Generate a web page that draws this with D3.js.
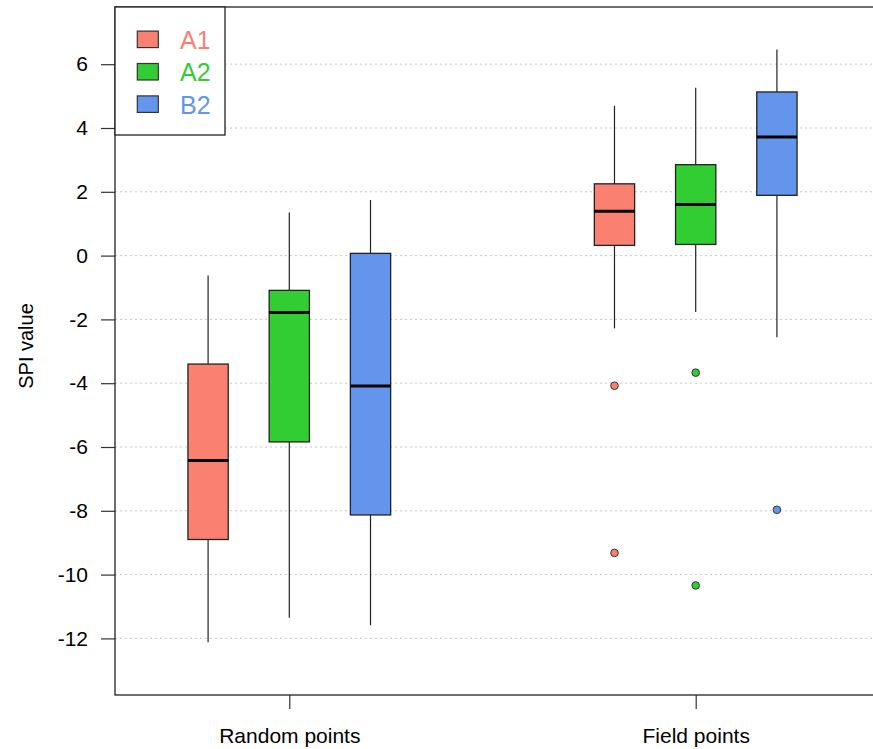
<!DOCTYPE html>
<html>
<head>
<meta charset="utf-8">
<script src="https://cdn.jsdelivr.net/npm/d3@7"></script>
<style>
    body { margin: 0; background: #fff; }
    text { font-family: "Liberation Sans", Arial, sans-serif; fill: #000; }
    .grid line { stroke: #c8c8c8; stroke-dasharray: 2,3; stroke-width: 1; }
</style>
</head>
<body>
<div id="chart"></div>
<script>
// data
var groups = ["Random points", "Field points"];
var series = ["A1", "A2", "B2"];
var colors = ["#FA8072", "#32CD32", "#6495ED"];

// per group, per series
var whiskerLow  = [[-12.12, -11.35, -11.59], [-2.28, -1.77, -2.56]];
var q1          = [[-8.90, -5.84, -8.13], [0.32, 0.35, 1.89]];
var median      = [[-6.42, -1.78, -4.09], [1.39, 1.60, 3.72]];
var q3          = [[-3.40, -1.09, 0.07], [2.25, 2.85, 5.13]];
var whiskerHigh = [[-0.62, 1.35, 1.74], [4.70, 5.26, 6.46]];
var outliers    = [[[], [], []], [[-4.08, -9.32], [-3.67, -10.34], [-7.97]]];

var yTicks = [-12, -10, -8, -6, -4, -2, 0, 2, 4, 6];

// set the dimensions of the graph
var W = 873, H = 749;
var plot = {left: 115, top: 7, right: 880, bottom: 695};

var svg = d3.select("#chart").append("svg")
    .attr("width", W)
    .attr("height", H);

var y = d3.scaleLinear()
    .domain([-13, 7])
    .range([670.3, 32.3]);

// group centres, then series offsets inside each group
var x = d3.scalePoint()
    .domain(groups)
    .range([289.3, 695.7]);

var xs = d3.scaleBand()
    .domain(series)
    .range([-101.35, 101.35])
    .paddingInner(0.504);

// flatten for drawing
var boxes = [];
groups.forEach(function (g, gi) {
    series.forEach(function (s, si) {
        boxes.push({
            group: g, series: s, color: colors[si],
            lo: whiskerLow[gi][si], q1: q1[gi][si], med: median[gi][si],
            q3: q3[gi][si], hi: whiskerHigh[gi][si], out: outliers[gi][si]
        });
    });
});

function cx(d) { return x(d.group) + xs(d.series) + xs.bandwidth() / 2; }

// grid lines
svg.append("g")
    .attr("class", "grid")
    .selectAll("line")
    .data(yTicks)
    .enter()
    .append("line")
    .attr("x1", plot.left)
    .attr("x2", W)
    .attr("y1", function (d) { return y(d); })
    .attr("y2", function (d) { return y(d); });

// whiskers
svg.append("g").selectAll("line")
    .data(boxes)
    .enter()
    .append("line")
    .attr("x1", cx).attr("x2", cx)
    .attr("y1", function (d) { return y(d.hi); })
    .attr("y2", function (d) { return y(d.lo); })
    .attr("stroke", "#222")
    .attr("stroke-width", 1.2);

// boxes
svg.append("g").selectAll("rect")
    .data(boxes)
    .enter()
    .append("rect")
    .attr("x", function (d) { return cx(d) - xs.bandwidth() / 2; })
    .attr("width", xs.bandwidth())
    .attr("y", function (d) { return y(d.q3); })
    .attr("height", function (d) { return y(d.q1) - y(d.q3); })
    .attr("fill", function (d) { return d.color; })
    .attr("stroke", "#222")
    .attr("stroke-width", 1.3);

// medians
svg.append("g").selectAll("line")
    .data(boxes)
    .enter()
    .append("line")
    .attr("x1", function (d) { return cx(d) - xs.bandwidth() / 2; })
    .attr("x2", function (d) { return cx(d) + xs.bandwidth() / 2; })
    .attr("y1", function (d) { return y(d.med); })
    .attr("y2", function (d) { return y(d.med); })
    .attr("stroke", "#000")
    .attr("stroke-width", 3);

// outliers
var pts = [];
boxes.forEach(function (b) {
    b.out.forEach(function (v) { pts.push({b: b, v: v}); });
});
svg.append("g").selectAll("circle")
    .data(pts)
    .enter()
    .append("circle")
    .attr("cx", function (d) { return cx(d.b); })
    .attr("cy", function (d) { return y(d.v); })
    .attr("r", 3.8)
    .attr("fill", function (d) { return d.b.color; })
    .attr("stroke", "#333")
    .attr("stroke-width", 1);

// Y axis (plain hyphen for negatives, like the original)
var yAxis = svg.append("g")
    .attr("transform", "translate(" + plot.left + ",0)")
    .call(d3.axisLeft(y).tickValues(yTicks)
        .tickFormat(function (d) { return String(d); })
        .tickSize(14).tickPadding(13));
yAxis.select(".domain").remove();
yAxis.selectAll(".tick line").attr("stroke", "#333").attr("stroke-width", 1.2);
yAxis.selectAll("text")
    .style("font-family", "Liberation Sans, Arial, sans-serif")
    .style("font-size", "21px")
    .attr("fill", "#000");

// X axis
var xAxis = svg.append("g")
    .attr("transform", "translate(0," + plot.bottom + ")")
    .call(d3.axisBottom(x).tickSize(14).tickPadding(19));
xAxis.select(".domain").remove();
xAxis.selectAll(".tick line").attr("stroke", "#333").attr("stroke-width", 1.2);
xAxis.selectAll("text")
    .style("font-family", "Liberation Sans, Arial, sans-serif")
    .style("font-size", "21px")
    .attr("fill", "#000");

// plot frame
svg.append("rect")
    .attr("x", plot.left)
    .attr("y", plot.top)
    .attr("width", plot.right - plot.left)
    .attr("height", plot.bottom - plot.top)
    .attr("fill", "none")
    .attr("stroke", "#222")
    .attr("stroke-width", 1.3);

// y label
svg.append("text")
    .attr("transform", "translate(33,346) rotate(-90)")
    .style("text-anchor", "middle")
    .style("font-size", "20px")
    .text("SPI value");

// legend
var legend = svg.append("g");
legend.append("rect")
    .attr("x", plot.left)
    .attr("y", plot.top)
    .attr("width", 110)
    .attr("height", 128)
    .attr("fill", "#fff")
    .attr("stroke", "#222")
    .attr("stroke-width", 1.3);

var items = legend.selectAll("g.item")
    .data(series)
    .enter()
    .append("g")
    .attr("class", "item")
    .attr("transform", function (d, i) { return "translate(0," + (39.3 + 32.4 * i) + ")"; });

items.append("rect")
    .attr("x", 137.3)
    .attr("y", -8.2)
    .attr("width", 21)
    .attr("height", 16.5)
    .attr("fill", function (d, i) { return colors[i]; })
    .attr("stroke", "#333")
    .attr("stroke-width", 1.2);

items.append("text")
    .attr("x", 180)
    .attr("y", 9.5)
    .style("font-size", "25px")
    .style("fill", function (d, i) { return colors[i]; })
    .text(function (d) { return d; });
</script>
</body>
</html>
